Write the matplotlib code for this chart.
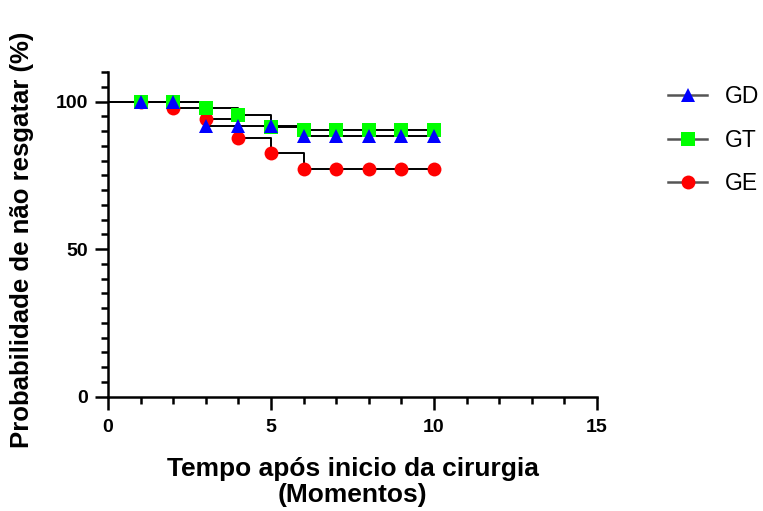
import numpy as np
import matplotlib.pyplot as plt
from matplotlib.ticker import MultipleLocator

plt.rcParams['font.family'] = ['Liberation Sans', 'DejaVu Sans']

# time points (momentos) and survival estimates (%)
t = [0, 1, 2, 3, 4, 5, 6, 7, 8, 9, 10]
gd = [100, 100, 100, 91.8, 91.8, 91.8, 88.3, 88.3, 88.3, 88.3, 88.3]
gt = [100, 100, 100, 97.8, 95.6, 91.3, 90.2, 90.2, 90.2, 90.2, 90.2]
ge = [100, 100, 97.8, 94.0, 87.5, 82.5, 77.0, 77.0, 77.0, 77.0, 77.0]

series = [("GE", ge, "o", "#ff0000", 10),
          ("GT", gt, "s", "#00ff00", 9.5),
          ("GD", gd, "^", "#0000ff", 10)]

fig = plt.figure(figsize=(7.63, 5.11), dpi=100)
ax = fig.add_axes([0.1415, 0.224, 0.641, 0.635])

handles = {}
for name, vals, mk, col, ms in series:
    ax.step(t, vals, where="post", color="black", lw=1.4, zorder=2)
    ax.plot(t[1:], vals[1:], linestyle="none", marker=mk, color=col,
            markersize=ms, markeredgewidth=0, zorder=3)
    h, = ax.plot([], [], color="#555555", lw=1.8, marker=mk,
                 markerfacecolor=col, markeredgewidth=0, markersize=ms)
    handles[name] = h

ax.set_xlim(0, 15)
ax.set_ylim(0, 110)
ax.set_xticks([0, 5, 10, 15])
ax.set_yticks([0, 50, 100])
ax.xaxis.set_minor_locator(MultipleLocator(1))
ax.yaxis.set_minor_locator(MultipleLocator(5))
for s in ["top", "right"]:
    ax.spines[s].set_visible(False)
for s in ["left", "bottom"]:
    ax.spines[s].set_linewidth(1.8)
ax.tick_params(which="major", length=9.5, width=1.8, labelsize=14, pad=5)
ax.tick_params(axis="x", which="major", pad=7)
ax.tick_params(which="minor", length=5, width=1.8)
for lab in ax.get_xticklabels() + ax.get_yticklabels():
    lab.set_fontweight("bold")

ax.set_xlabel("Tempo após inicio da cirurgia\n(Momentos)", fontsize=19,
              fontweight="bold", labelpad=15, linespacing=1.1)
ax.set_ylabel("Probabilidade de não resgatar (%)", fontsize=18.5,
              fontweight="bold")
ax.yaxis.set_label_coords(-0.152, 0.484)

order = ["GD", "GT", "GE"]
fig.legend([handles[n] for n in order], order, loc="upper left",
           bbox_to_anchor=(0.849, 0.874), frameon=False, fontsize=16.5,
           handlelength=1.7, labelspacing=0.9, handletextpad=0.75)

fig.savefig("out.png", dpi=100)
